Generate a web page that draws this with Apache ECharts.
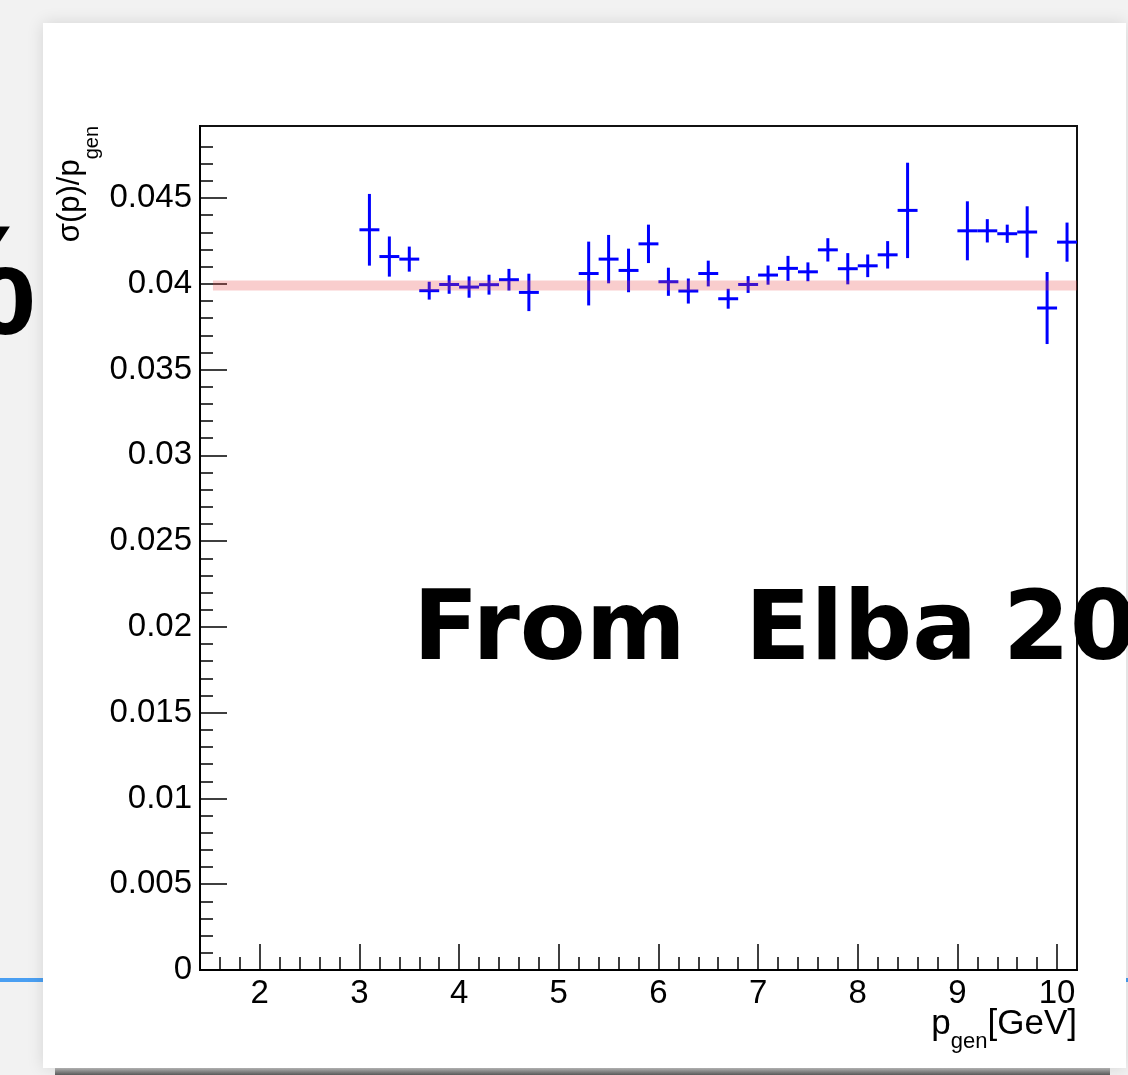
<!DOCTYPE html>
<html>
<head>
<meta charset="utf-8">
<script src="https://cdn.jsdelivr.net/npm/echarts@6/dist/echarts.min.js"></script>
<style>
  html, body { margin: 0; padding: 0; background: #f2f2f2; }
  #chart { width: 1128px; height: 1075px; }
</style>
</head>
<body>
<div id="chart"></div>
<script>
// Relative momentum resolution per generated-momentum bin
const pBins = [3.1, 3.3, 3.5, 3.7, 3.9, 4.1, 4.3, 4.5, 4.7,
               5.3, 5.5, 5.7, 5.9, 6.1, 6.3, 6.5, 6.7, 6.9, 7.1, 7.3, 7.5, 7.7, 7.9, 8.1, 8.3, 8.5,
               9.1, 9.3, 9.5, 9.7, 9.9, 10.1];
const sigmaRel = [0.04315, 0.04159, 0.04144, 0.03960, 0.03996, 0.03981, 0.03995, 0.04024, 0.03950,
                  0.04060, 0.04144, 0.04078, 0.04233, 0.04012, 0.03958, 0.04060, 0.03913, 0.03996,
                  0.04051, 0.04090, 0.04070, 0.04198, 0.04088, 0.04105, 0.04169, 0.04428,
                  0.04309, 0.04309, 0.04292, 0.04302, 0.03859, 0.04243];
const sigmaRelErr = [0.00209, 0.00117, 0.00073, 0.00052, 0.00054, 0.00062, 0.00058, 0.00063, 0.00109,
                     0.00186, 0.00141, 0.00127, 0.00112, 0.00082, 0.00073, 0.00075, 0.00058, 0.00049,
                     0.00056, 0.00073, 0.00055, 0.00068, 0.00091, 0.00066, 0.00080, 0.00278,
                     0.00172, 0.00068, 0.00053, 0.00150, 0.00210, 0.00114];
const binHalfWidth = 0.1;

// 4% reference band
const refLevel = 0.0399;
const refRange = [1.53, 10.2];

// Axis ranges and tick labels
const xRange = [1.4, 10.2];
const yRange = [0, 0.0492];
const xTickLabels = [2, 3, 4, 5, 6, 7, 8, 9, 10];
const yTickLabels = [0, 0.005, 0.01, 0.015, 0.02, 0.025, 0.03, 0.035, 0.04, 0.045];

// Handwritten note, one word per entry
const noteWords = ['From', 'Elba', '20'];

// minor tick positions (ROOT style: 5 divisions per major step)
const xMinorTicks = [];
for (let k = 8; k <= 50; k++) xMinorTicks.push(+(k * 0.2).toFixed(1));
const yMinorTicks = [];
for (let k = 1; k <= 48; k++) yMinorTicks.push(+(k * 0.001).toFixed(3));

const FONT = 'Liberation Sans, Arial, Helvetica, sans-serif';

const chart = echarts.init(document.getElementById('chart'), null, { renderer: 'canvas' });

const axisCommon = {
  type: 'value',
  splitLine: { show: false },
  axisLine: { show: true, onZero: false, lineStyle: { color: '#000', width: 2 } }
};

const noteX = [413, 745, 1003];
const noteElements = noteWords.map((w, i) => ({
  type: 'text', z: 60, x: noteX[i], y: 682,
  style: { text: w, fill: '#000', font: 'bold 96px DejaVu Sans, sans-serif',
           align: 'left', verticalAlign: 'bottom' }
}));

const option = {
  backgroundColor: '#f2f2f2',
  animation: false,
  grid: {
    left: 200, top: 126, width: 877, height: 844,
    show: true, borderColor: '#111', borderWidth: 2, backgroundColor: 'transparent'
  },
  xAxis: [
    Object.assign({}, axisCommon, {
      min: xRange[0], max: xRange[1], position: 'bottom',
      axisTick: { show: true, inside: true, length: 26, customValues: xTickLabels,
                  lineStyle: { color: '#000', width: 1.5 } },
      axisLabel: { customValues: xTickLabels, color: '#000', fontSize: 33, fontFamily: FONT, margin: 7 }
    }),
    Object.assign({}, axisCommon, {
      min: xRange[0], max: xRange[1], position: 'bottom', offset: 0,
      axisLine: { show: false },
      axisTick: { show: true, inside: true, length: 13, customValues: xMinorTicks,
                  lineStyle: { color: '#000', width: 1.5 } },
      axisLabel: { show: false }
    })
  ],
  yAxis: [
    Object.assign({}, axisCommon, {
      min: yRange[0], max: yRange[1], position: 'left',
      axisTick: { show: true, inside: true, length: 27, customValues: yTickLabels,
                  lineStyle: { color: '#000', width: 1.5 } },
      axisLabel: { customValues: yTickLabels, color: '#000', fontSize: 33, fontFamily: FONT, margin: 8 }
    }),
    Object.assign({}, axisCommon, {
      min: yRange[0], max: yRange[1], position: 'left', offset: 0,
      axisLine: { show: false },
      axisTick: { show: true, inside: true, length: 13, customValues: yMinorTicks,
                  lineStyle: { color: '#000', width: 1.5 } },
      axisLabel: { show: false }
    })
  ],
  series: [
    {
      name: 'resolution',
      type: 'custom',
      xAxisIndex: 0, yAxisIndex: 0,
      clip: true,
      silent: true,
      z: 3,
      data: pBins.map((p, i) => [p, sigmaRel[i], sigmaRelErr[i]]),
      encode: { x: 0, y: 1 },
      renderItem: function (params, api) {
        const x = api.value(0), y = api.value(1), e = api.value(2);
        const top = api.coord([x, y + e]);
        const bot = api.coord([x, y - e]);
        const left = api.coord([x - binHalfWidth, y]);
        const right = api.coord([x + binHalfWidth, y]);
        const st = { stroke: '#0000ff', lineWidth: 3 };
        return {
          type: 'group',
          children: [
            { type: 'line', shape: { x1: top[0], y1: top[1], x2: bot[0], y2: bot[1] }, style: st },
            { type: 'line', shape: { x1: left[0], y1: left[1], x2: right[0], y2: right[1] }, style: st }
          ]
        };
      }
    },
    {
      name: 'reference',
      type: 'line',
      xAxisIndex: 0, yAxisIndex: 0,
      silent: true,
      z: 5,
      symbol: 'none',
      data: [[refRange[0], refLevel], [refRange[1], refLevel]],
      lineStyle: { color: 'rgba(232, 70, 70, 0.27)', width: 10, cap: 'butt' }
    }
  ],
  graphic: {
    elements: [
      // slide decorations behind the plot card
      { type: 'rect', z: -30, shape: { x: 0, y: 978, width: 1128, height: 4 },
        style: { fill: '#4a9ff2' } },
      { type: 'text', z: -30, x: 36, y: 369,
        style: { text: '%', fill: '#000', font: 'bold 155px ' + FONT, align: 'right', verticalAlign: 'bottom' } },
      { type: 'rect', z: -20, shape: { x: 43, y: 23, width: 1083, height: 1045 },
        style: { fill: '#ffffff', shadowBlur: 16, shadowColor: 'rgba(0,0,0,0.12)' } },
      { type: 'rect', z: -15, shape: { x: 55, y: 1068, width: 1055, height: 7 },
        style: { fill: new echarts.graphic.LinearGradient(0, 0, 0, 1, [
          { offset: 0, color: '#b0b0b0' }, { offset: 1, color: '#5a5a5a' }]) } },
      // axis titles
      { type: 'text', z: 50, x: 70, y: 126, rotation: Math.PI / 2,
        style: {
          text: '{m|σ(p)/p}{s|gen}', align: 'right', verticalAlign: 'middle',
          rich: {
            m: { fontSize: 31, fontFamily: FONT, fill: '#000', color: '#000' },
            s: { fontSize: 20, fontFamily: FONT, fill: '#000', color: '#000', padding: [44, 0, 0, 0] }
          }
        } },
      { type: 'text', z: 50, x: 1077, y: 1024,
        style: {
          text: '{m|p}{s|gen}{m|[GeV]}', align: 'right', verticalAlign: 'middle',
          rich: {
            m: { fontSize: 35, fontFamily: FONT, fill: '#000', color: '#000' },
            s: { fontSize: 22, fontFamily: FONT, fill: '#000', color: '#000', padding: [35, 0, 0, 0] }
          }
        } }
    ].concat(noteElements)
  }
};

chart.setOption(option);
</script>
</body>
</html>
